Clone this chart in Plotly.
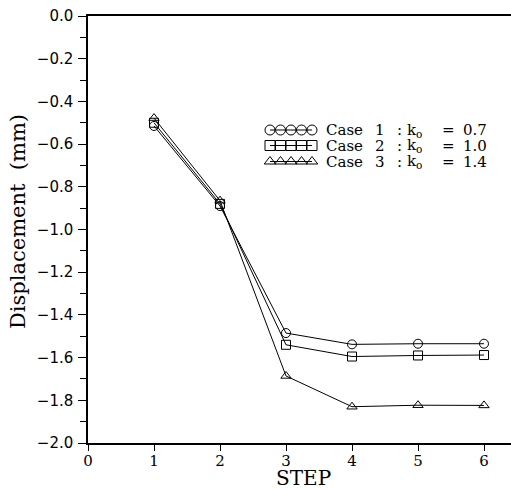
import plotly.graph_objects as go

# Displacement at each excavation step for three k0 cases
steps = [1, 2, 3, 4, 5, 6]
case1 = [-0.515, -0.890, -1.485, -1.538, -1.535, -1.535]
case2 = [-0.500, -0.880, -1.540, -1.595, -1.590, -1.588]
case3 = [-0.478, -0.865, -1.686, -1.830, -1.823, -1.824]

case_numbers = ["1", "2", "3"]
k0_values = ["0.7", "1.0", "1.4"]
symbols = ["circle-open", "square-open", "triangle-up-open"]

W, H = 511, 489
L, R, T, B = 88, 0, 16, 46
PW, PH = W - L - R, H - T - B


def px_x(px):
    return (px - L) / PW


def px_y(py):
    return (H - B - py) / PH


fig = go.Figure()

for vals, sym in zip([case1, case2, case3], symbols):
    fig.add_trace(go.Scatter(
        x=steps, y=vals, mode="lines+markers",
        line=dict(color="black", width=1),
        marker=dict(symbol=sym, size=9, color="black",
                    line=dict(color="black", width=1)),
        showlegend=False, hoverinfo="skip",
    ))

# Hand-drawn key: a short run of overlapping symbols followed by the label
key_rows = [130, 145.5, 161.5]
key_xs = [270, 280.5, 291, 301.5, 312]
key_font = dict(family="DejaVu Serif", size=15, color="black")
for row, sym, num, k0 in zip(key_rows, symbols, case_numbers, k0_values):
    fig.add_trace(go.Scatter(
        x=[px_x(v) for v in key_xs], y=[px_y(row)] * len(key_xs),
        xaxis="x2", yaxis="y2", mode="lines+markers",
        line=dict(color="black", width=1),
        marker=dict(symbol=sym, size=10, color="black",
                    line=dict(color="black", width=1)),
        showlegend=False, hoverinfo="skip",
    ))
    pieces = [(325, "Case"), (374, num), (396, ":"),
              (406, "k<sub>o</sub>"), (441, "="), (462, k0)]
    for xpos, txt in pieces:
        fig.add_annotation(
            x=px_x(xpos), y=px_y(row), xref="paper", yref="paper",
            text=txt, showarrow=False, xanchor="left", yanchor="middle",
            font=key_font, borderpad=0,
        )

fig.add_annotation(
    x=px_x(18), y=px_y(222), xref="paper", yref="paper",
    text="Displacement  (mm)", textangle=-90, showarrow=False,
    xanchor="center", yanchor="middle",
    font=dict(family="DejaVu Serif", size=21, color="black"),
)
fig.add_annotation(
    x=px_x(303), y=px_y(478), xref="paper", yref="paper",
    text="STEP", showarrow=False, xanchor="center", yanchor="middle",
    font=dict(family="DejaVu Serif", size=20, color="black"), borderpad=0,
)

fig.update_layout(
    width=W, height=H,
    margin=dict(l=L, r=R, t=T, b=B),
    paper_bgcolor="white", plot_bgcolor="white",
    xaxis=dict(
        range=[0, PW / 66.0], dtick=1, tick0=0,
        showgrid=False, zeroline=False,
        showline=True, linecolor="black", linewidth=1.5, mirror=True,
        ticks="outside", ticklen=6, tickwidth=1, tickcolor="black",
        tickfont=dict(family="DejaVu Serif", size=15, color="black"),
        ticklabelstandoff=-3,
    ),
    yaxis=dict(
        range=[-2.0, 0.0], dtick=0.2, tick0=0, tickformat=".1f",
        showgrid=False, zeroline=False,
        showline=True, linecolor="black", linewidth=1.5,
        ticks="outside", ticklen=8, tickwidth=1, tickcolor="black",
        minor=dict(dtick=0.1, ticks="outside", ticklen=6,
                   tickwidth=1, tickcolor="black"),
        tickfont=dict(family="DejaVu Sans", size=15, color="black"),
        ticklabelstandoff=2,
    ),
    xaxis2=dict(range=[0, 1], overlaying="x", visible=False, fixedrange=True),
    yaxis2=dict(range=[0, 1], overlaying="y", visible=False, fixedrange=True),
)

fig.write_html("out.html")
